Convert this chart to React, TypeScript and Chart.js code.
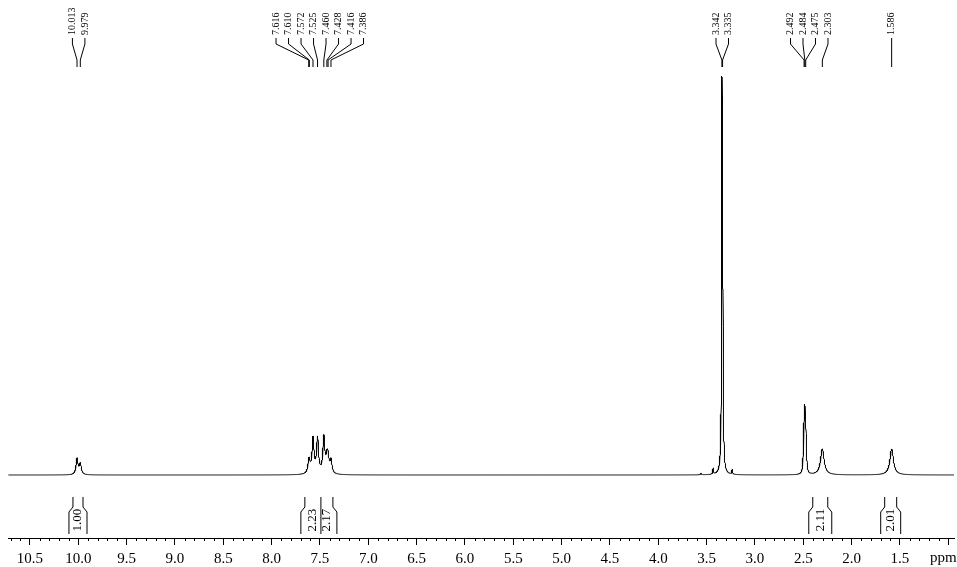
import React, { useEffect, useRef } from 'react';
import { Chart, registerables } from 'chart.js';

Chart.register(...registerables);

// ---- axis ----
const PPM_MIN = 0.941;
const PPM_MAX = 10.727;
const MAJOR_TICKS = [10.5, 10.0, 9.5, 9.0, 8.5, 8.0, 7.5, 7.0, 6.5, 6.0, 5.5, 5.0, 4.5, 4.0, 3.5, 3.0, 2.5, 2.0, 1.5, 1.0];
const TICK_LABELS = ['10.5', '10.0', '9.5', '9.0', '8.5', '8.0', '7.5', '7.0', '6.5', '6.0', '5.5', '5.0', '4.5', '4.0', '3.5', '3.0', '2.5', '2.0', '1.5', 'ppm'];

// ---- spectral lines (shift ppm, height, half-width ppm) ----
const PEAK_SHIFTS = [10.013, 9.979, 7.616, 7.610, 7.572, 7.525, 7.460, 7.428, 7.416, 7.386, 3.56, 3.433, 3.342, 3.335, 3.236, 2.500, 2.492, 2.484, 2.475, 2.467, 2.303, 1.586];
const PEAK_HEIGHTS = [16, 11, 8, 7, 35, 35, 36, 13, 13, 13, 1.5, 6, 326, 296, 5, 12, 34, 51, 34, 12, 26, 26];
const PEAK_WIDTHS = [0.012, 0.012, 0.012, 0.012, 0.012, 0.012, 0.012, 0.012, 0.012, 0.012, 0.006, 0.004, 0.004, 0.004, 0.004, 0.005, 0.005, 0.005, 0.005, 0.005, 0.022, 0.022];

// ---- annotations ----
const LABEL_SHIFTS = [10.013, 9.979, 7.616, 7.610, 7.572, 7.525, 7.460, 7.428, 7.416, 7.386, 3.342, 3.335, 2.492, 2.484, 2.475, 2.303, 1.586];
const INTEGRAL_FROM = [10.055, 7.656, 7.490, 2.402, 1.658];
const INTEGRAL_TO = [9.951, 7.490, 7.366, 2.247, 1.534];
const INTEGRAL_VALUES = ['1.00', '2.23', '2.17', '2.11', '2.01'];

const SERIF = '"Liberation Serif", "DejaVu Serif", serif';

function buildSpectrum() {
  const xs: number[] = [];
  for (let i = Math.floor(PPM_MIN * 1000); i <= Math.ceil(PPM_MAX * 1000); i++) xs.push(i / 1000);
  PEAK_SHIFTS.forEach((s) => xs.push(s));
  xs.sort((a, b) => a - b);
  return xs.map((x) => {
    let y = 0;
    for (let k = 0; k < PEAK_SHIFTS.length; k++) {
      const d = x - PEAK_SHIFTS[k];
      const w = PEAK_WIDTHS[k];
      y += (PEAK_HEIGHTS[k] * w * w) / (d * d + w * w);
    }
    return { x, y };
  });
}

const annotationPlugin = {
  id: 'nmrAnnotations',
  afterDraw(chart: any) {
    const ctx = chart.ctx as CanvasRenderingContext2D;
    const xs = chart.scales.x;
    const area = chart.chartArea;
    ctx.save();
    ctx.strokeStyle = '#000';
    ctx.fillStyle = '#000';
    ctx.lineWidth = 1;

    // minor ticks
    for (let i = 10; i <= 107; i++) {
      if (i % 5 === 0) continue;
      const px = Math.round(xs.getPixelForValue(i / 10)) + 0.5;
      ctx.beginPath();
      ctx.moveTo(px, area.bottom);
      ctx.lineTo(px, area.bottom + 3);
      ctx.stroke();
    }

    // "ppm" label at last major tick
    const lastIdx = MAJOR_TICKS.length - 1;
    ctx.font = `15px ${SERIF}`;
    ctx.textAlign = 'center';
    ctx.textBaseline = 'middle';
    ctx.fillText(TICK_LABELS[lastIdx], xs.getPixelForValue(MAJOR_TICKS[lastIdx]) - 5, 558);

    // peak labels
    const groups: number[][] = [];
    LABEL_SHIFTS.forEach((s, i) => {
      if (i === 0 || LABEL_SHIFTS[i - 1] - s > 0.3) groups.push([s]);
      else groups[groups.length - 1].push(s);
    });
    ctx.font = `10px ${SERIF}`;
    groups.forEach((g) => {
      const pix = g.map((s) => xs.getPixelForValue(s));
      const mean = pix.reduce((a, b) => a + b, 0) / pix.length;
      const spacing = 12.5;
      g.forEach((s, i) => {
        const lx = mean + (i - (g.length - 1) / 2) * spacing;
        const px = pix[i];
        ctx.save();
        ctx.translate(lx, 35);
        ctx.rotate(-Math.PI / 2);
        ctx.textAlign = 'left';
        ctx.textBaseline = 'middle';
        ctx.fillText(s.toFixed(3), 0, 0);
        ctx.restore();
        ctx.beginPath();
        ctx.moveTo(lx, 38);
        ctx.lineTo(lx, 44);
        ctx.lineTo(px, 60);
        ctx.lineTo(px, 67);
        ctx.stroke();
      });
    });

    // integrals
    const top = 497, knee = 507, flare = 512, bottom = 534;
    const edge = (ppm: number, dir: number, shared: boolean) => {
      const p = xs.getPixelForValue(ppm);
      ctx.beginPath();
      if (shared) {
        ctx.moveTo(p, top);
        ctx.lineTo(p, bottom);
      } else {
        ctx.moveTo(p, top);
        ctx.lineTo(p, knee);
        ctx.lineTo(p + dir * 4, flare);
        ctx.lineTo(p + dir * 4, bottom);
      }
      ctx.stroke();
    };
    ctx.font = `13px ${SERIF}`;
    INTEGRAL_VALUES.forEach((v, i) => {
      const a = INTEGRAL_FROM[i];
      const b = INTEGRAL_TO[i];
      const sharedLeft = i > 0 && INTEGRAL_TO[i - 1] === a;
      const sharedRight = i < INTEGRAL_VALUES.length - 1 && INTEGRAL_FROM[i + 1] === b;
      if (!sharedLeft) edge(a, -1, false);
      edge(b, 1, sharedRight);
      const cx = (xs.getPixelForValue(a) + xs.getPixelForValue(b)) / 2;
      ctx.save();
      ctx.translate(cx, 520);
      ctx.rotate(-Math.PI / 2);
      ctx.textAlign = 'center';
      ctx.textBaseline = 'middle';
      ctx.fillText(v, 0, 0);
      ctx.restore();
    });

    ctx.restore();
  },
};

export default function App() {
  const ref = useRef<HTMLCanvasElement | null>(null);
  useEffect(() => {
    if (!ref.current) return;
    const chart = new Chart(ref.current, {
      type: 'line',
      data: {
        datasets: [
          {
            data: buildSpectrum(),
            borderColor: '#000',
            borderWidth: 1,
            pointRadius: 0,
            tension: 0,
            fill: false,
          },
        ],
      },
      options: {
        animation: false,
        responsive: false,
        devicePixelRatio: 1,
        parsing: false,
        normalized: true,
        events: [],
        layout: { padding: { left: 8, right: 3, top: 0, bottom: 0 } },
        plugins: { legend: { display: false }, tooltip: { enabled: false } },
        scales: {
          x: {
            type: 'linear',
            reverse: true,
            min: PPM_MIN,
            max: PPM_MAX,
            afterBuildTicks: (scale: any) => {
              scale.ticks = MAJOR_TICKS.map((v) => ({ value: v }));
            },
            afterFit: (scale: any) => {
              scale.height = 29;
            },
            grid: { display: true, drawOnChartArea: false, drawTicks: true, tickLength: 7, tickColor: '#000', color: '#000' },
            border: { display: true, color: '#000', width: 1 },
            ticks: {
              autoSkip: false,
              maxRotation: 0,
              padding: 7,
              color: '#000',
              font: { family: SERIF, size: 15, lineHeight: 1.0 },
              callback: (value: any) => {
                const i = MAJOR_TICKS.findIndex((t) => Math.abs(t - Number(value)) < 1e-6);
                if (i < 0 || i === MAJOR_TICKS.length - 1) return '';
                return TICK_LABELS[i];
              },
            },
          },
          y: {
            display: false,
            min: -63,
            max: 475,
          },
        },
      },
      plugins: [annotationPlugin],
    } as any);
    return () => chart.destroy();
  }, []);
  return (
    <div style={{ position: 'absolute', left: 0, top: 0, width: 957, height: 567, background: '#fff' }}>
      <canvas ref={ref} width={957} height={567} style={{ display: 'block' }} />
    </div>
  );
}
